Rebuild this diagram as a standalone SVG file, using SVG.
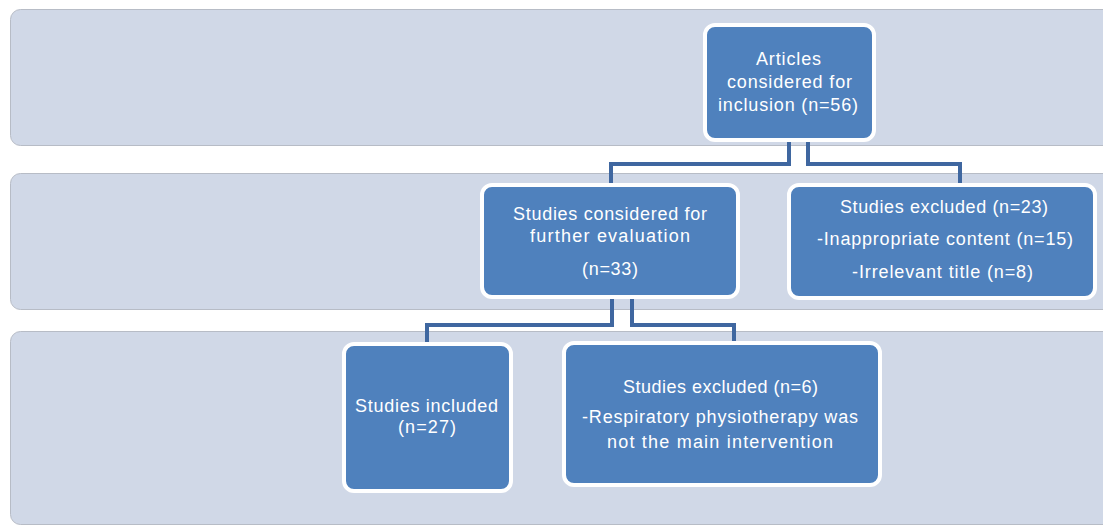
<svg xmlns="http://www.w3.org/2000/svg" width="1103" height="525" viewBox="0 0 1103 525">
<style>
.band{fill:#D0D8E7;stroke:#B7BCC6;stroke-width:1}
.node{fill:#4F81BD;stroke:#FFFFFF;stroke-width:4}
.conn{fill:none;stroke:#3F67A0;stroke-width:4;stroke-linejoin:miter}
text{font-family:"Liberation Sans",Arial,sans-serif;font-size:18px;fill:#FFFFFF;text-anchor:middle}
</style>
<rect width="1103" height="525" fill="#FFFFFF"/>
<g id="bands">
<rect class="band" x="10.5" y="9.5" width="1110" height="136" rx="10"/>
<rect class="band" x="10.5" y="173.5" width="1110" height="136" rx="10"/>
<rect class="band" x="10.5" y="331.5" width="1110" height="193" rx="10"/>
</g>
<g id="connectors">
<path class="conn" d="M789,140 V164 H611 V184"/>
<path class="conn" d="M808,140 V164 H960 V184"/>
<path class="conn" d="M612,297 V325 H427 V343"/>
<path class="conn" d="M632,297 V325 H734 V343"/>
</g>
<g id="n-articles">
<rect class="node" x="705" y="25" width="169" height="115" rx="10"/>
<text x="788.5" y="65" textLength="65" lengthAdjust="spacing">Articles</text>
<text x="789.5" y="88" textLength="125" lengthAdjust="spacing">considered for</text>
<text x="788" y="111" textLength="140" lengthAdjust="spacing">inclusion (n=56)</text>
</g>
<g id="n-considered">
<rect class="node" x="482" y="185" width="256" height="112" rx="10"/>
<text x="610" y="220" textLength="194" lengthAdjust="spacing">Studies considered for</text>
<text x="610" y="242" textLength="160" lengthAdjust="spacing">further evaluation</text>
<text x="610" y="275" textLength="56" lengthAdjust="spacing">(n=33)</text>
</g>
<g id="n-excluded23">
<rect class="node" x="789" y="185" width="306" height="113" rx="10"/>
<text x="944" y="213" textLength="208" lengthAdjust="spacing">Studies excluded (n=23)</text>
<text x="945" y="245" textLength="256" lengthAdjust="spacing">-Inappropriate content (n=15)</text>
<text x="942.5" y="278" textLength="181" lengthAdjust="spacing">-Irrelevant title (n=8)</text>
</g>
<g id="n-included">
<rect class="node" x="344" y="344" width="167" height="147" rx="10"/>
<text x="426.5" y="412" textLength="143" lengthAdjust="spacing">Studies included</text>
<text x="427" y="433" textLength="58" lengthAdjust="spacing">(n=27)</text>
</g>
<g id="n-excluded6">
<rect class="node" x="564" y="343" width="316" height="142" rx="10"/>
<text x="720.5" y="393" textLength="195" lengthAdjust="spacing">Studies excluded (n=6)</text>
<text x="720" y="423" textLength="276" lengthAdjust="spacing">-Respiratory physiotherapy was</text>
<text x="720" y="448" textLength="226" lengthAdjust="spacing">not the main intervention</text>
</g>
</svg>
